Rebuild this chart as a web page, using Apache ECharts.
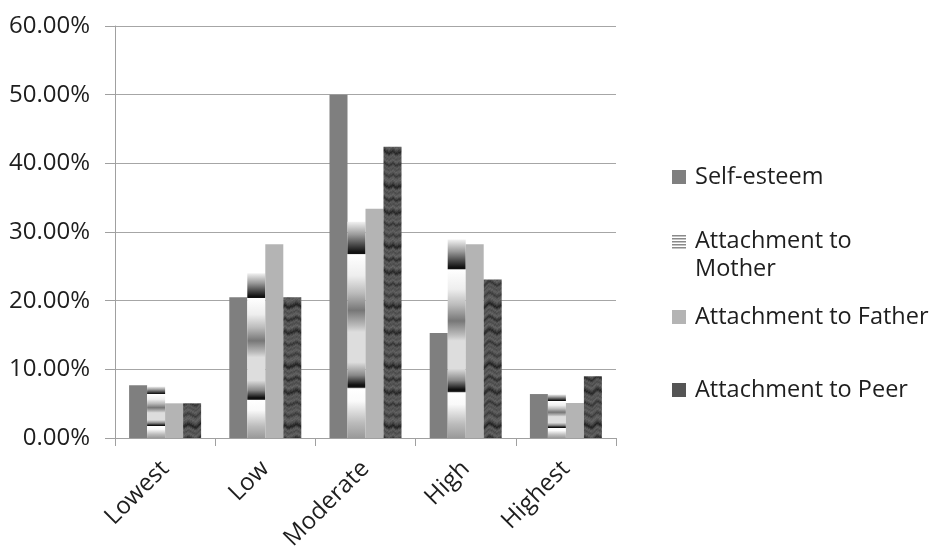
<!DOCTYPE html>
<html><head><meta charset="utf-8">
<script src="https://cdn.jsdelivr.net/npm/echarts@6/dist/echarts.min.js"></script>
<style>html,body{margin:0;padding:0;background:#fff}#c{width:929px;height:548px}</style>
</head><body><div id="c"></div>
<script>
var categories = ['Lowest', 'Low', 'Moderate', 'High', 'Highest'];
var selfEsteem = [7.7, 20.5, 50.0, 15.3, 6.4];
var attachMother = [7.5, 24.0, 31.5, 28.9, 6.35];
var attachFather = [5.05, 28.2, 33.4, 28.2, 5.1];
var attachPeer = [5.05, 20.5, 42.4, 23.1, 9.0];
var yTicks = [0, 10, 20, 30, 40, 50, 60];

var FONT = 'Open Sans';

// mother: banded gradient stretched over each bar
var motherGrad = new echarts.graphic.LinearGradient(0, 0, 0, 1, [
  {offset: 0, color: '#f2f2f2'},
  {offset: 0.06, color: '#9a9a9a'},
  {offset: 0.11, color: '#444'},
  {offset: 0.14, color: '#111'},
  {offset: 0.148, color: '#111'},
  {offset: 0.152, color: '#ffffff'},
  {offset: 0.25, color: '#eeeeee'},
  {offset: 0.33, color: '#bbbbbb'},
  {offset: 0.41, color: '#777777'},
  {offset: 0.48, color: '#bbbbbb'},
  {offset: 0.51, color: '#dddddd'},
  {offset: 0.65, color: '#dddddd'},
  {offset: 0.71, color: '#888888'},
  {offset: 0.755, color: '#111111'},
  {offset: 0.765, color: '#111111'},
  {offset: 0.772, color: '#ffffff'},
  {offset: 0.83, color: '#fafafa'},
  {offset: 0.93, color: '#bbbbbb'},
  {offset: 1, color: '#999999'}
]);

// peer: dark streaked texture (fixed shading rows and column shifts)
function peerPattern() {
  var c = document.createElement('canvas');
  c.width = 36; c.height = 60;
  var g = c.getContext('2d');
  var rows = [92,96,88,80,72,60,44,36,50,70,86,92,84,76,82,90,96,88,74,58,48,60,78,88,84,76,80,92,96,86,
              74,62,50,40,52,70,84,90,86,80,84,94,90,78,64,54,66,80,88,82,78,86,94,90,80,70,60,68,82,90];
  var shifts = [0,0,1,1,1,2,2,3,3,3,2,2,1,1,0,0,0,1,2,3,4,4,4,3,3,2,1,1,0,0,1,1,2,2,1,0];
  var tint = [0,4,-3,2,6,-2,0,5,-4,3,1,-5,2,6,0,-3,4,2,-2,5,0,-4,3,1,-1,6,-3,2,0,4,-2,3,-5,1,5,0];
  for (var y = 0; y < c.height; y++) {
    for (var x = 0; x < c.width; x++) {
      var idx = (y + shifts[x]) % rows.length;
      var v = rows[idx] + tint[(x + y * 7) % tint.length];
      g.fillStyle = 'rgb(' + v + ',' + v + ',' + v + ')';
      g.fillRect(x, y, 1, 1);
    }
  }
  return c;
}
// legend icon for mother: striped square at top of a taller transparent image
function motherIcon() {
  var c = document.createElement('canvas');
  c.width = 14; c.height = 42;
  var g = c.getContext('2d');
  g.fillStyle = '#8a8a8a';
  for (var y = 1; y < 14; y += 3) g.fillRect(0, y, 14, 1.5);
  return c.toDataURL();
}
var peerFill = {image: peerPattern(), repeat: 'repeat'};

var chart = echarts.init(document.getElementById('c'));
var textStyle = {fontFamily: FONT, fontSize: 23.5, color: '#1e1e1e', lineHeight: 28,
  rich: {a: {fontFamily: FONT, fontSize: 23.5, color: '#1e1e1e', lineHeight: 28, padding: [0, 0, 0, 4]}}};
function lg(top, item, extra) {
  return Object.assign({
    orient: 'vertical', left: 667, top: top, itemWidth: 14, itemHeight: 14, itemGap: 9,
    selectedMode: false, textStyle: textStyle, data: [item],
    formatter: function (n) { return '{a|' + n + '}'; }
  }, extra || {});
}
chart.setOption({
  animation: false,
  grid: {left: 115, right: 313, top: 26, bottom: 110, containLabel: false, outerBoundsMode: 'none'},
  legend: [
    lg(158, {name: 'Self-esteem', icon: 'rect', itemStyle: {color: '#7f7f7f'}}),
    lg(222, {name: 'Attachment to Mother', icon: 'image://' + motherIcon()}, {
      itemHeight: 42,
      formatter: function () { return '{a|Attachment to}\n{a|Mother}'; }
    }),
    lg(298, {name: 'Attachment to Father', icon: 'rect', itemStyle: {color: '#b4b4b4'}}),
    lg(371, {name: 'Attachment to Peer', icon: 'rect', itemStyle: {color: '#555555'}})
  ],
  xAxis: {
    type: 'category', data: categories,
    axisLine: {lineStyle: {color: '#a0a0a0', width: 1}},
    axisTick: {show: true, length: 8, alignWithLabel: false, lineStyle: {color: '#a0a0a0'}},
    axisLabel: {rotate: 45, fontFamily: FONT, fontSize: 24, color: '#1e1e1e', margin: 27, interval: 0}
  },
  yAxis: {
    type: 'value', min: 0, max: 60, interval: 10,
    axisLine: {show: true, lineStyle: {color: '#a0a0a0', width: 1}},
    axisTick: {show: true, length: 10, lineStyle: {color: '#a0a0a0'}},
    splitLine: {lineStyle: {color: '#a6a6a6', width: 1}},
    axisLabel: {fontFamily: FONT, fontSize: 24, color: '#1e1e1e', margin: 25,
      formatter: function (v) { return yTicks.indexOf(v) >= 0 ? v.toFixed(2) + '%' : ''; }}
  },
  series: [
    {name: 'Self-esteem', type: 'bar', data: selfEsteem, barWidth: 18, barGap: '0%', itemStyle: {color: '#7f7f7f'}},
    {name: 'Attachment to Mother', type: 'bar', data: attachMother, barWidth: 18, barGap: '0%', itemStyle: {color: motherGrad}},
    {name: 'Attachment to Father', type: 'bar', data: attachFather, barWidth: 18, barGap: '0%', itemStyle: {color: '#b4b4b4'}},
    {name: 'Attachment to Peer', type: 'bar', data: attachPeer, barWidth: 18, barGap: '0%', itemStyle: {color: peerFill}}
  ]
});
</script></body></html>
